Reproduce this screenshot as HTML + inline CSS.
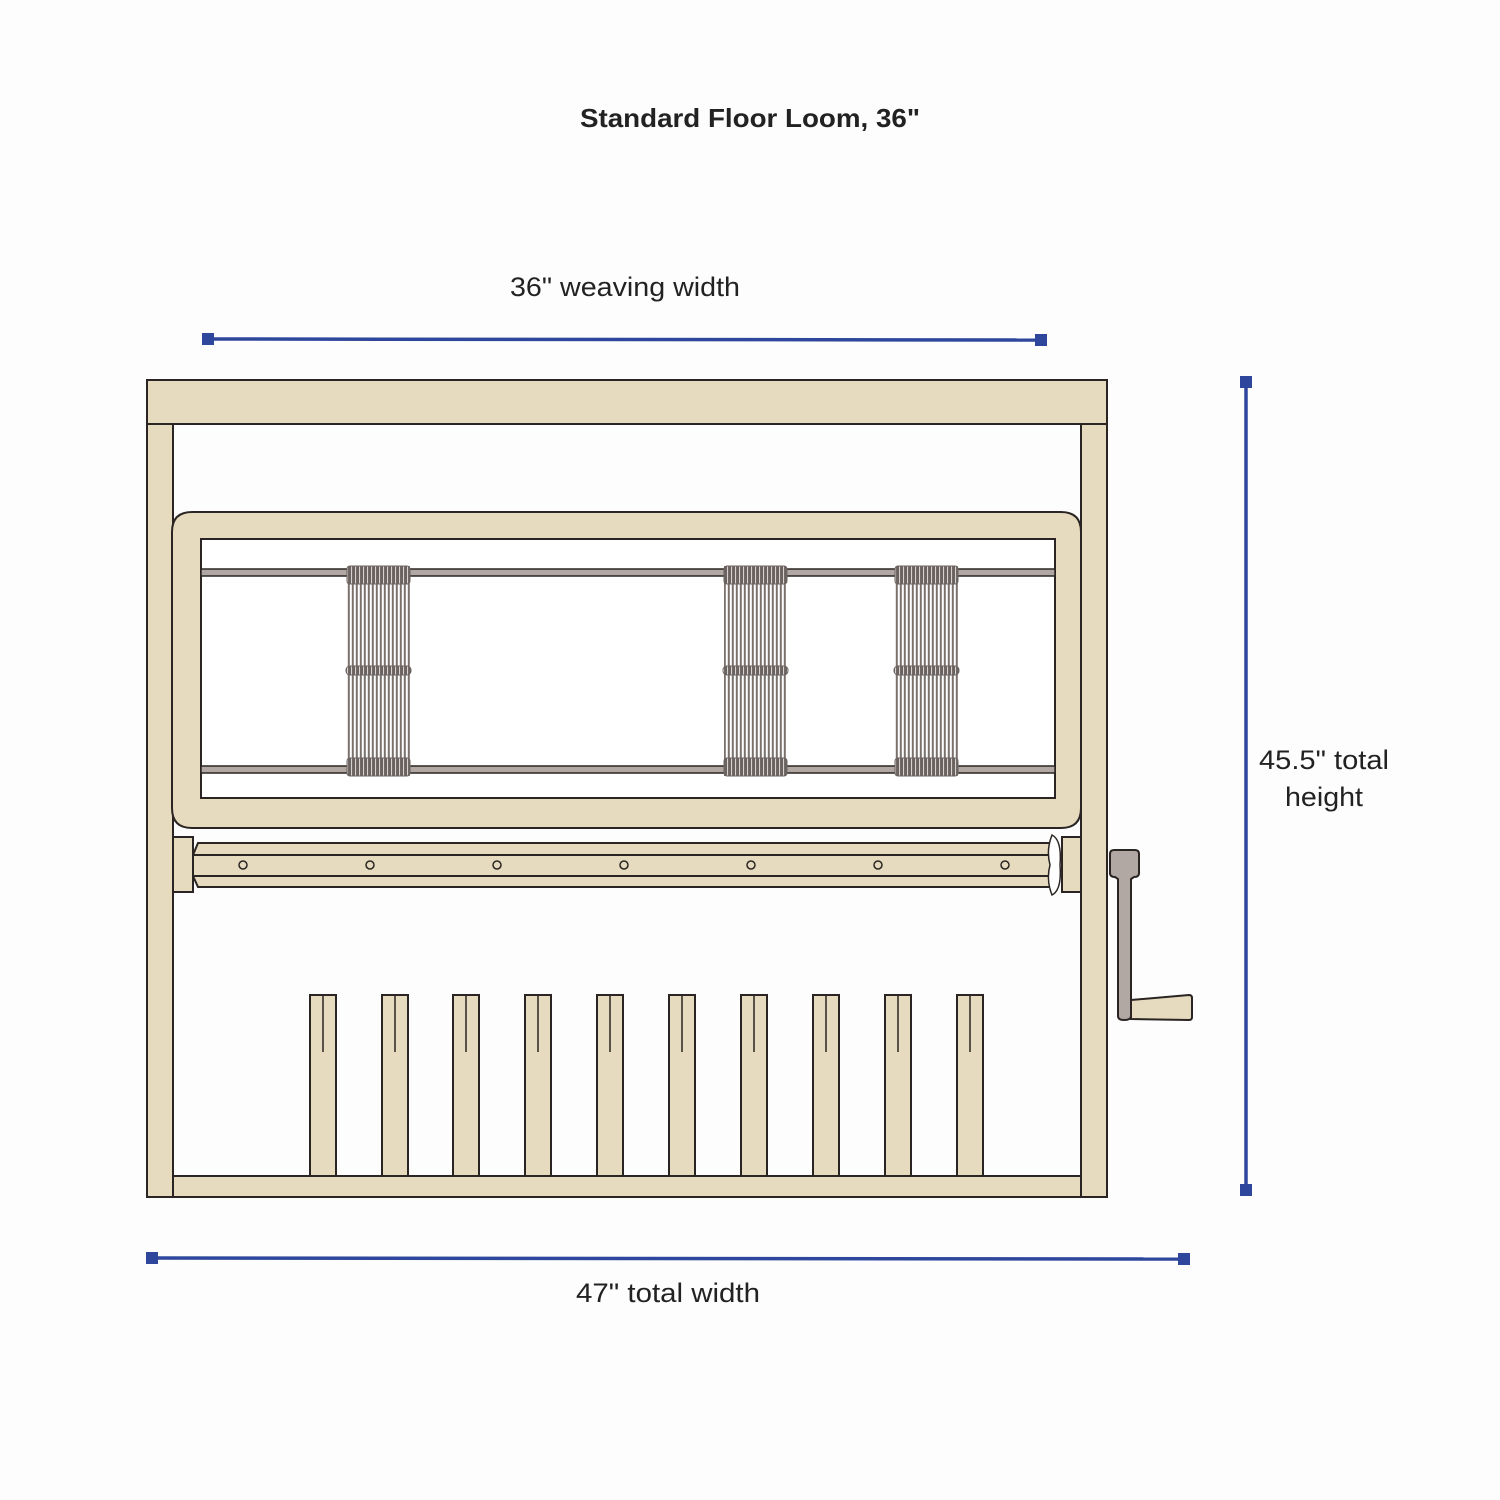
<!DOCTYPE html>
<html><head><meta charset="utf-8"><style>html,body{margin:0;padding:0;background:#fdfdfd}svg{display:block}</style></head>
<body>
<svg width="1500" height="1500" viewBox="0 0 1500 1500" xmlns="http://www.w3.org/2000/svg" font-family="Liberation Sans, sans-serif">
<defs>
<pattern id="hd" x="347" y="0" width="4" height="10" patternUnits="userSpaceOnUse">
<rect x="0" y="0" width="4" height="10" fill="#fff"/>
<rect x="0.8" y="0" width="2" height="10" fill="#7a716d"/>
</pattern>
<pattern id="hd2" x="0" y="0" width="4" height="10" patternUnits="userSpaceOnUse">
<rect x="0.5" y="0" width="2.6" height="10" fill="#6b6360"/>
</pattern>
</defs>
<rect width="1500" height="1500" fill="#fdfdfd"/>
<text x="750" y="127" text-anchor="middle" font-weight="bold" font-size="26" fill="#222" textLength="340" lengthAdjust="spacingAndGlyphs">Standard Floor Loom, 36"</text>
<text x="625" y="296" text-anchor="middle" font-size="27" fill="#222" textLength="230" lengthAdjust="spacingAndGlyphs">36" weaving width</text>
<text x="668" y="1302" text-anchor="middle" font-size="27" fill="#222" textLength="184" lengthAdjust="spacingAndGlyphs">47" total width</text>
<text x="1324" y="769" text-anchor="middle" font-size="27" fill="#222" textLength="130" lengthAdjust="spacingAndGlyphs">45.5" total</text>
<text x="1324" y="806" text-anchor="middle" font-size="27" fill="#222" textLength="78" lengthAdjust="spacingAndGlyphs">height</text>

<g fill="#2e479c" stroke="#2e479c">
<line x1="208" y1="339" x2="1041" y2="340" stroke-width="3.5"/>
<rect x="202" y="333" width="12" height="12" stroke="none"/><rect x="1035" y="334" width="12" height="12" stroke="none"/>
<line x1="1246" y1="382" x2="1246" y2="1190" stroke-width="3.5"/>
<rect x="1240" y="376" width="12" height="12" stroke="none"/><rect x="1240" y="1184" width="12" height="12" stroke="none"/>
<line x1="152" y1="1258" x2="1184" y2="1259" stroke-width="3.5"/>
<rect x="146" y="1252" width="12" height="12" stroke="none"/><rect x="1178" y="1253" width="12" height="12" stroke="none"/>
</g>

<g stroke="#2a2522" stroke-width="2" fill="#e6dbbf">
<rect x="147" y="424" width="26" height="773"/>
<rect x="1081" y="424" width="26" height="773"/>
<rect x="147" y="380" width="960" height="44"/>
<rect x="173" y="1176" width="908" height="21"/>
<path fill-rule="evenodd" d="M192 512 H1061 Q1081 512 1081 532 V808 Q1081 828 1061 828 H192 Q172 828 172 808 V532 Q172 512 192 512 Z M201 539 V798 H1055 V539 Z"/>
</g>
<rect x="202" y="540" width="852" height="257" fill="#fff"/>
<g stroke="#2a2522" stroke-width="1.5" fill="#b1a8a4">
<rect x="201" y="569" width="854" height="7"/>
<rect x="201" y="766" width="854" height="7"/>
</g>
<g>
<rect x="347" y="566" width="63" height="210" fill="url(#hd)"/>
<rect x="724" y="566" width="63" height="210" fill="url(#hd)"/>
<rect x="895" y="566" width="63" height="210" fill="url(#hd)"/>
<g fill="url(#hd2)" stroke="#6b6360" stroke-width="1">
<rect x="347" y="566" width="63" height="18" rx="3"/><rect x="347" y="758" width="63" height="18" rx="3"/><rect x="346" y="666" width="65" height="9" rx="4"/>
<rect x="724" y="566" width="63" height="18" rx="3"/><rect x="724" y="758" width="63" height="18" rx="3"/><rect x="723" y="666" width="65" height="9" rx="4"/>
<rect x="895" y="566" width="63" height="18" rx="3"/><rect x="895" y="758" width="63" height="18" rx="3"/><rect x="894" y="666" width="65" height="9" rx="4"/>
</g>
</g>

<g stroke="#2a2522" stroke-width="2" fill="#e6dbbf">
<rect x="173" y="837" width="20" height="55"/>
<rect x="1062" y="837" width="19" height="55"/>
<path d="M198 843 H1052 V887 H198 L193 876 V855 Z"/>
<line x1="193" y1="855" x2="1052" y2="855"/>
<line x1="193" y1="876" x2="1052" y2="876"/>
<path d="M1052 835 Q1062 840 1060 865 Q1062 890 1052 895 Q1046 880 1050 865 Q1046 850 1052 835 Z" fill="#fff" stroke-width="1.5"/>
<g fill="none" stroke-width="1.5">
<circle cx="243" cy="865" r="4"/><circle cx="370" cy="865" r="4"/><circle cx="497" cy="865" r="4"/><circle cx="624" cy="865" r="4"/><circle cx="751" cy="865" r="4"/><circle cx="878" cy="865" r="4"/><circle cx="1005" cy="865" r="4"/>
</g>
</g>
<g stroke="#2a2522" stroke-width="2">
<path d="M1131 1000 L1189 995 Q1192 995 1192 998 V1017 Q1192 1020 1189 1020 L1131 1019 Z" fill="#e6dbbf"/>
<path d="M1114 850 H1135 Q1139 850 1139 854 V873 Q1139 877 1134 877 L1131 879 V1016 Q1131 1020 1124 1020 Q1118 1020 1118 1016 V879 L1115 877 Q1110 877 1110 873 V854 Q1110 850 1114 850 Z" fill="#b1a8a4"/>
</g>
<g stroke="#2a2522" stroke-width="2" fill="#e6dbbf">
<rect x="310" y="995" width="26" height="181"/><rect x="382" y="995" width="26" height="181"/><rect x="453" y="995" width="26" height="181"/><rect x="525" y="995" width="26" height="181"/><rect x="597" y="995" width="26" height="181"/><rect x="669" y="995" width="26" height="181"/><rect x="741" y="995" width="26" height="181"/><rect x="813" y="995" width="26" height="181"/><rect x="885" y="995" width="26" height="181"/><rect x="957" y="995" width="26" height="181"/>
<g stroke-width="1.5"><path d="M323 995V1052M395 995V1052M466 995V1052M538 995V1052M610 995V1052M682 995V1052M754 995V1052M826 995V1052M898 995V1052M970 995V1052"/></g>
</g>
</svg>
</body></html>
